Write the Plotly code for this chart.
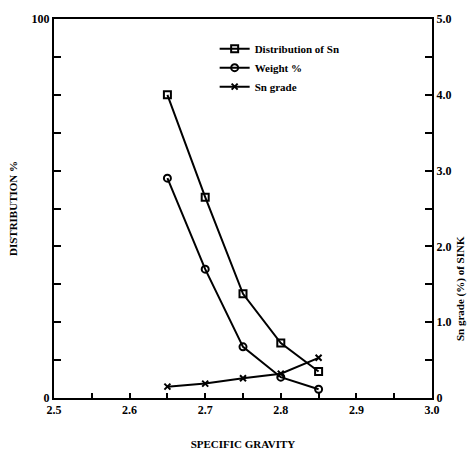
import plotly.graph_objects as go

specific_gravity = [2.65, 2.70, 2.75, 2.80, 2.85]
distribution_sn = [80.0, 53.0, 27.5, 14.5, 7.0]
weight_pct = [58.0, 34.0, 13.5, 5.5, 2.3]
sn_grade = [0.15, 0.19, 0.26, 0.32, 0.53]

x_tick_vals = [2.5, 2.55, 2.6, 2.65, 2.7, 2.75, 2.8, 2.85, 2.9, 2.95, 3.0]
x_tick_text = ["2.5", "", "2.6", "", "2.7", "", "2.8", "", "2.9", "", "3.0"]
y_tick_vals = [0, 10, 20, 30, 40, 50, 60, 70, 80, 90, 100]
y_tick_text = ["0", "", "", "", "", "", "", "", "", "", "100"]
y2_tick_vals = [0, 0.5, 1.0, 1.5, 2.0, 2.5, 3.0, 3.5, 4.0, 4.5, 5.0]
y2_tick_text = ["0", "", "1.0", "", "2.0", "", "3.0", "", "4.0", "", "5.0"]

FONT = "Liberation Serif"
blk = "black"

fig = go.Figure()
fig.add_trace(go.Scatter(
    x=specific_gravity, y=distribution_sn, name="Distribution of Sn",
    mode="lines+markers", line=dict(color=blk, width=2),
    marker=dict(symbol="square-open", size=7, color=blk, line=dict(width=2)),
))
fig.add_trace(go.Scatter(
    x=specific_gravity, y=weight_pct, name="Weight %",
    mode="lines+markers", line=dict(color=blk, width=2),
    marker=dict(symbol="circle-open", size=7, color=blk, line=dict(width=2)),
))
fig.add_trace(go.Scatter(
    x=specific_gravity, y=sn_grade, name="Sn grade", yaxis="y2",
    mode="lines+markers", line=dict(color=blk, width=2),
    marker=dict(symbol="x-thin-open", size=6, color=blk, line=dict(width=2, color=blk)),
))

fig.update_layout(
    width=467, height=461, autosize=False,
    margin=dict(l=47, r=35, t=14, b=57),
    paper_bgcolor="white", plot_bgcolor="white",
    font=dict(family=FONT, color=blk, size=11, weight="bold"),
    showlegend=True,
    legend=dict(x=0.425, y=0.96, xanchor="left", yanchor="top",
                bgcolor="rgba(0,0,0,0)", itemwidth=30,
                font=dict(family=FONT, size=11, weight="bold")),
    xaxis=dict(
        range=[2.5, 3.0], tickmode="array", tickvals=x_tick_vals, ticktext=x_tick_text,
        ticks="inside", ticklen=5, tickwidth=1.5, tickcolor=blk,
        showline=True, linewidth=2, linecolor=blk, mirror=True,
        showgrid=False, zeroline=False,
        tickfont=dict(family=FONT, size=12, weight="bold"),
        title=dict(text="SPECIFIC GRAVITY", standoff=24,
                   font=dict(family=FONT, size=11, weight="bold")),
    ),
    yaxis=dict(
        range=[0, 100], tickmode="array", tickvals=y_tick_vals, ticktext=y_tick_text,
        ticks="inside", ticklen=7, tickwidth=1.5, tickcolor=blk,
        showline=True, linewidth=2, linecolor=blk,
        showgrid=False, zeroline=False,
        tickfont=dict(family=FONT, size=12, weight="bold"),
        title=dict(text="DISTRIBUTION %", standoff=12,
                   font=dict(family=FONT, size=11, weight="bold")),
    ),
    yaxis2=dict(
        range=[0, 5], overlaying="y", side="right",
        tickmode="array", tickvals=y2_tick_vals, ticktext=y2_tick_text,
        ticks="inside", ticklen=7, tickwidth=1.5, tickcolor=blk,
        showline=True, linewidth=2, linecolor=blk,
        showgrid=False, zeroline=False,
        tickfont=dict(family=FONT, size=12, weight="bold"),
    ),
)

fig.add_annotation(
    text="Sn grade (%) of SINK", textangle=-90,
    xref="paper", yref="paper", x=1.074, y=0.29,
    xanchor="center", yanchor="middle", showarrow=False,
    font=dict(family=FONT, size=11, weight="bold", color=blk),
)

fig.write_html("out.html")
